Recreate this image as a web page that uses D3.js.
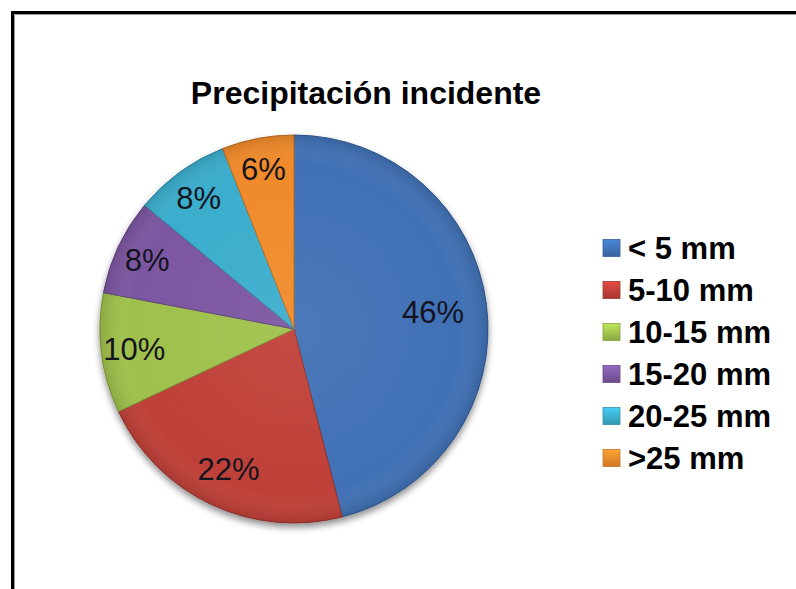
<!DOCTYPE html>
<html>
<head>
<meta charset="utf-8">
<script src="https://cdn.jsdelivr.net/npm/d3@7/dist/d3.min.js"></script>
<style>
  html, body { margin: 0; padding: 0; background: #fff; }
  svg { display: block; }
</style>
</head>
<body>
<svg id="chart" width="796" height="589"></svg>
<script>
// Rainfall classes and their share of incident precipitation (%)
const categories = ["< 5 mm", "5-10 mm", "10-15 mm", "15-20 mm", "20-25 mm", ">25 mm"];
const values = [46, 22, 10, 8, 8, 6];
const colors = ["#3f71b6", "#bf3f38", "#9fc14b", "#7c57a1", "#3badcd", "#f08a2c"];
const title = "Precipitación incidente";

const W = 796, H = 589;
const svg = d3.select("#chart");

// Frame: thick top and left rule
svg.append("path")
  .attr("d", `M12.5,${H} L12.5,12.5 L${W},12.5`)
  .attr("fill", "none")
  .attr("stroke", "#000")
  .attr("stroke-width", 3);
svg.append("path")
  .attr("d", `M14.5,${H} L14.5,14.5 L${W},14.5`)
  .attr("fill", "none")
  .attr("stroke", "#999")
  .attr("stroke-width", 1);

// Title
svg.append("text")
  .attr("x", 366)
  .attr("y", 104)
  .attr("text-anchor", "middle")
  .attr("font-family", "Liberation Sans, Arial, sans-serif")
  .attr("font-weight", "bold")
  .attr("font-size", 32)
  .attr("fill", "#000")
  .text(title);

const defs = svg.append("defs");
const shadow = defs.append("filter").attr("id", "pieShadow")
  .attr("x", "-20%").attr("y", "-20%").attr("width", "140%").attr("height", "140%");
shadow.append("feGaussianBlur").attr("in", "SourceAlpha").attr("stdDeviation", 3.5).attr("result", "b");
shadow.append("feOffset").attr("in", "b").attr("dx", 0).attr("dy", 4).attr("result", "o");
shadow.append("feComponentTransfer").attr("in", "o").attr("result", "s")
  .append("feFuncA").attr("type", "linear").attr("slope", 0.45);
const merge = shadow.append("feMerge");
merge.append("feMergeNode").attr("in", "s");
merge.append("feMergeNode").attr("in", "SourceGraphic");

// Soft shading toward the rim
const shade = defs.append("radialGradient").attr("id", "rimShade")
  .attr("cx", "50%").attr("cy", "50%").attr("r", "50%");
shade.append("stop").attr("offset", "0%").attr("stop-color", "#fff").attr("stop-opacity", 0.06);
shade.append("stop").attr("offset", "85%").attr("stop-color", "#fff").attr("stop-opacity", 0);
shade.append("stop").attr("offset", "100%").attr("stop-color", "#000").attr("stop-opacity", 0.12);

// Legend marker gradients
colors.forEach((c, i) => {
  const g = defs.append("linearGradient").attr("id", "mk" + i)
    .attr("x1", 0).attr("y1", 0).attr("x2", 0).attr("y2", 1);
  g.append("stop").attr("offset", "0%").attr("stop-color", d3.color(c).brighter(0.5));
  g.append("stop").attr("offset", "100%").attr("stop-color", d3.color(c).darker(0.4));
});

const cx = 294, cy = 329, R = 194;
const color = d3.scaleOrdinal().domain(categories).range(colors);

const pie = d3.pie().sort(null).value(d => d.value);
const arcs = pie(categories.map((c, i) => ({ cat: c, value: values[i] })));
const arc = d3.arc().innerRadius(0).outerRadius(R);

const g = svg.append("g").attr("transform", `translate(${cx},${cy})`);
const slices = g.append("g").attr("filter", "url(#pieShadow)");
slices.selectAll("path")
  .data(arcs)
  .join("path")
  .attr("d", arc)
  .attr("fill", d => color(d.data.cat))
  .attr("stroke", d => d3.color(color(d.data.cat)).darker(0.7))
  .attr("stroke-width", 1)
  .attr("stroke-linejoin", "round");
g.append("circle").attr("r", R).attr("fill", "url(#rimShade)").attr("pointer-events", "none");

// Percentage labels, pulled inward a little more for larger slices
const total = d3.sum(values);
g.selectAll("text.pct")
  .data(arcs)
  .join("text")
  .attr("class", "pct")
  .each(function(d) {
    const frac = d.data.value / total;
    const r = R * (0.86 - 0.3 * frac);
    const a = (d.startAngle + d.endAngle) / 2;
    d3.select(this)
      .attr("x", r * Math.sin(a))
      .attr("y", -r * Math.cos(a));
  })
  .attr("text-anchor", "middle")
  .attr("dy", "0.36em")
  .attr("font-family", "Liberation Sans, Arial, sans-serif")
  .attr("font-size", 31)
  .attr("fill", "#14141f")
  .text(d => d.data.value + "%");

// Legend
const legendY = d3.scalePoint().domain(categories).range([248, 458]);
const lg = svg.append("g");
const items = lg.selectAll("g").data(categories).join("g")
  .attr("transform", d => `translate(603,${legendY(d)})`);
items.append("rect")
  .attr("x", 0).attr("y", -8.5)
  .attr("width", 17).attr("height", 17)
  .attr("fill", (d, i) => `url(#mk${i})`)
  .attr("stroke", d => d3.color(color(d)).darker(0.5))
  .attr("stroke-width", 0.8);
items.append("text")
  .attr("x", 25)
  .attr("y", 0)
  .attr("dy", "0.36em")
  .attr("font-family", "Liberation Sans, Arial, sans-serif")
  .attr("font-weight", "bold")
  .attr("font-size", 31)
  .attr("fill", "#000")
  .text(d => d);
</script>
</body>
</html>
